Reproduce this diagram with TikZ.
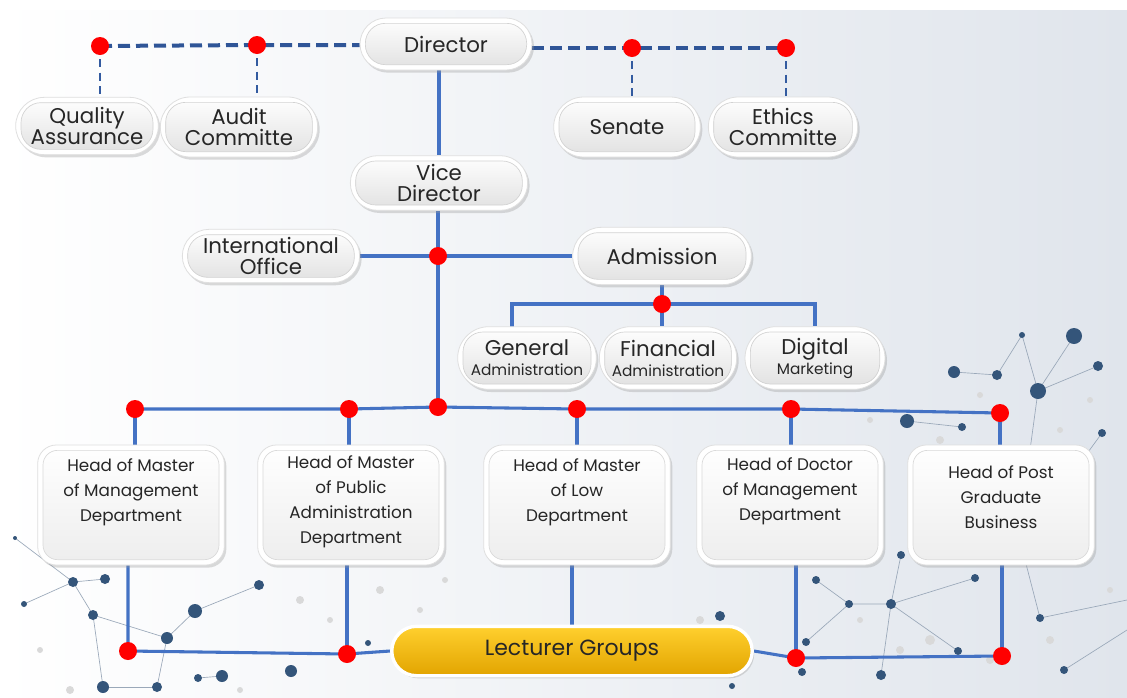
\documentclass[tikz,border=0pt]{standalone}
\usepackage{fontspec}
\setmainfont{Poppins}
\usetikzlibrary{shadows,calc,shapes.misc}
\pgfdeclarelayer{bg}
\pgfdeclarelayer{lines}
\pgfsetlayers{bg,lines,main}
\definecolor{lineblue}{HTML}{4472C4}
\definecolor{dashblue}{HTML}{2F5597}
\definecolor{dotred}{HTML}{FF0000}
\definecolor{netdot}{HTML}{34557A}
\definecolor{netline}{HTML}{9AA8B9}
\definecolor{bgright}{HTML}{E0E5EC}
\definecolor{goldtop}{HTML}{FFD02E}
\definecolor{goldbot}{HTML}{E2A400}
\tikzset{
  pill/.style={rounded rectangle, fill=white, draw=gray!25, line width=0.6pt, inner sep=0pt, align=center,
    drop shadow={shadow xshift=1.5pt, shadow yshift=-2pt, opacity=0.35, fill=gray!80},
    path picture={\draw[gray!35, line width=0.5pt, top color=white, bottom color=gray!24, rounded corners=15pt]
      ([shift={(4pt,4pt)}]path picture bounding box.south west) rectangle
      ([shift={(-4pt,-4pt)}]path picture bounding box.north east);},
    font=\fontsize{16}{16}\selectfont, text=black!85},
  headbox/.style={rounded corners=14pt, fill=white, draw=gray!25, line width=0.6pt, inner sep=0pt,
    minimum width=140pt, minimum height=90pt,
    drop shadow={shadow xshift=1.5pt, shadow yshift=-2pt, opacity=0.35, fill=gray!80},
    path picture={\draw[gray!30, line width=0.5pt, top color=white, bottom color=gray!14, rounded corners=11pt]
      ([shift={(4pt,4pt)}]path picture bounding box.south west) rectangle
      ([shift={(-4pt,-4pt)}]path picture bounding box.north east);}},
  headtext/.style={align=center, font=\fontsize{12.6}{18.7}\selectfont, text=black!85, inner sep=0pt},
  lecturer/.style={rounded rectangle, draw=white, line width=2.5pt,
    top color=goldtop, bottom color=goldbot, minimum width=277pt, minimum height=37pt,
    drop shadow={shadow xshift=1.5pt, shadow yshift=-2pt, opacity=0.35, fill=gray!80},
    font=\fontsize{16.5}{16.5}\selectfont, text=black!85},
  rdot/.style={circle, fill=dotred, minimum size=13.5pt, inner sep=0pt},
  solidline/.style={draw=lineblue, line width=2.3pt},
  dashline/.style={draw=dashblue, line width=3pt, dash pattern=on 9pt off 4.5pt},
  vdash/.style={draw=dashblue!80!lineblue, line width=2.2pt, dash pattern=on 6pt off 4pt},
  ndot/.style={fill=netdot},
  ldot/.style={fill=gray!30},
  nline/.style={draw=netline, line width=0.5pt}
}
\newcommand{\smalltxt}[1]{{\fontsize{11.5}{12}\selectfont #1}}
\begin{document}
\begin{tikzpicture}[x=0.75pt, y=-0.75pt]
\useasboundingbox (0,0) rectangle (1127,697);
\begin{pgfonlayer}{bg}
  \shade[left color=white, right color=bgright] (0,10) rectangle (1127,697);
  \fill[white] (0,0) rectangle (1127,10);
  % network decoration lines
  \path[nline] (954,372) -- (997,375) -- (1022,335) -- (1038,391) -- (1074,336);
  \path[nline] (1038,391) -- (1098,366);
  \path[nline] (907,421) -- (962,427);
  \path[nline] (1038,391) -- (1030,450) -- (1015,520);
  \path[nline] (1102,433) -- (1075,470);
  \path[nline] (15,538) -- (73,582) -- (105,579);
  \path[nline] (24,604) -- (73,582) -- (93,615) -- (167,638) -- (195,611) -- (259,585);
  \path[nline] (93,615) -- (103,687);
  \path[nline] (167,638) -- (157,687);
  \path[nline] (198,678) -- (222,676);
  \path[nline] (103,687) -- (157,687);
  \path[nline] (816,580) -- (849,604) -- (891,604) -- (975,578);
  \path[nline] (891,604) -- (958,651);
  \path[nline] (901,555) -- (891,604) -- (881,675);
  \path[nline] (806,642) -- (849,604);
  \path[nline] (1040,618) -- (1127,600);
  \path[nline] (1064,670) -- (1127,630);
  \path[nline] (1040,618) -- (1025,560);
  % light dots
  \foreach \p/\r in {(1000,420)/4,(980,395)/3,(1060,430)/3,(1090,400)/3,(940,440)/4,(870,420)/3,
    (900,650)/4,(930,640)/5,(990,660)/4,(1080,560)/4,(1110,590)/3,(1050,640)/4,(860,620)/3,
    (300,600)/4,(330,620)/3,(70,690)/4,(240,690)/3,(40,650)/3,(380,590)/4,(420,610)/3,(700,620)/4,(680,660)/3,(445,580)/3}
    \fill[ldot] \p circle (\r);
  % dark dots
  \foreach \p/\r in {(1074,336)/8,(1022,335)/3,(1098,366)/5,(1038,391)/8,(954,372)/6,(997,375)/5,
    (907,421)/7,(962,427)/4,(1102,433)/4,
    (15,538)/2,(73,582)/5,(105,579)/5,(24,604)/3,(93,615)/5,(195,611)/7,(259,585)/5,(167,638)/6,
    (103,687)/6,(157,687)/5,(198,678)/4,(222,676)/6,(291,671)/6,(368,643)/3,
    (901,555)/4,(816,580)/4,(849,604)/4,(891,604)/5,(975,578)/4,(720,616)/5,(806,642)/4,
    (802,672)/4,(881,675)/5,(958,651)/4,(1040,618)/4,(1064,670)/4,(732,686)/3}
    \fill[ndot] \p circle (\r);
\end{pgfonlayer}

% top level
\node[pill, minimum width=129pt, minimum height=39pt] (dir) at (446,44) {Director};
\node[pill, minimum width=107pt, minimum height=43pt] (qa) at (87,126) {Quality\\Assurance};
\node[pill, minimum width=118pt, minimum height=45pt] (ac) at (239,127) {Audit\\Committe};
\node[pill, minimum width=110pt, minimum height=45pt] (sen) at (627,127) {Senate};
\node[pill, minimum width=112pt, minimum height=45pt] (eth) at (783,127) {Ethics\\Committe};
\node[pill, minimum width=133pt, minimum height=41pt] (vd) at (439,183) {Vice\\Director};
\node[pill, minimum width=133pt, minimum height=40pt] (io) at (271,256) {International\\Office};
\node[pill, minimum width=134pt, minimum height=43pt] (adm) at (662,256) {Admission};
\node[pill, minimum width=104pt, minimum height=47pt] (ga) at (527,358) {General\\[-1pt]\smalltxt{Administration}};
\node[pill, minimum width=103pt, minimum height=47pt] (fa) at (668,358) {Financial\\[-1pt]\smalltxt{Administration}};
\node[pill, minimum width=105pt, minimum height=47pt] (dm) at (815,358) {Digital\\[-1pt]\smalltxt{Marketing}};

% heads
\node[headbox] (h1) at (131,505) {};
\node[headbox] (h2) at (351,505) {};
\node[headbox] (h3) at (577,505) {};
\node[headbox] (h4) at (790,505) {};
\node[headbox] (h5) at (1001,505) {};
\node[headtext] (h1t) at (131,492) {Head of Master\\of Management\\Department};
\node[headtext] (h2t) at (351,502) {Head of Master\\of Public\\Administration\\Department};
\node[headtext] (h3t) at (577,492) {Head of Master\\of Low\\Department};
\node[headtext] (h4t) at (790,491) {Head of Doctor\\of Management\\Department};
\node[headtext] (h5t) at (1001,497) {Head of Post\\Graduate\\Business};

\node[lecturer] (lg) at (572,651) {Lecturer Groups};

% red dots
\node[rdot] (dq) at (100,46) {};
\node[rdot] (da) at (257,45) {};
\node[rdot] (ds) at (632,48) {};
\node[rdot] (de) at (786,48) {};
\node[rdot] (dv) at (438,256) {};
\node[rdot] (dA) at (662,304) {};
\node[rdot] (b1) at (135,409) {};
\node[rdot] (b2) at (349,409) {};
\node[rdot] (b3) at (438,407) {};
\node[rdot] (b4) at (577,409) {};
\node[rdot] (b5) at (791,409) {};
\node[rdot] (b6) at (1000,413) {};
\node[rdot] (l1) at (128,651) {};
\node[rdot] (l2) at (347,654) {};
\node[rdot] (l3) at (796,658) {};
\node[rdot] (l4) at (1002,656) {};
\coordinate (gaTop) at (512,327);

\begin{pgfonlayer}{lines}
  % dashed advisory lines
  \path[dashline] (dq.center) -- (da.center) -- (dir.west |- da.center);
  \path[dashline] (dir.east |- ds.center) -- (ds.center) -- (de.center);
  \path[vdash] (dq.center) -- (dq.center |- qa.north);
  \path[vdash] (da.center) -- (da.center |- ac.north);
  \path[vdash] (ds.center) -- (ds.center |- sen.north);
  \path[vdash] (de.center) -- (de.center |- eth.north);
  % main spine
  \path[solidline] (vd.north |- dir.south) -- (vd.north);
  \path[solidline] (dv.center |- vd.south) -- (dv.center) -- (b3.center);
  \path[solidline] (io.east) -- (dv.center) -- (adm.west);
  % admission
  \path[solidline] (dA.center |- adm.south) -- (dA.center);
  \path[solidline] (gaTop) |- (dA.center) -| (dm.north);
  \path[solidline] (dA.center) -- (dA.center |- fa.north);
  % heads bar
  \path[solidline] (b1.center) -- (b2.center) -- (b3.center) -- (b4.center) -- (b5.center) -- (b6.center);
  \path[solidline] (b1.center) -- (b1.center |- h1.north);
  \path[solidline] (b2.center) -- (b2.center |- h2.north);
  \path[solidline] (b4.center) -- (b4.center |- h3.north);
  \path[solidline] (b5.center) -- (b5.center |- h4.north);
  \path[solidline] (b6.center) -- (b6.center |- h5.north);
  % lower
  \path[solidline] (l1.center |- h1.south) -- (l1.center) -- (l2.center) -- (lg.west);
  \path[solidline] (l2.center |- h2.south) -- (l2.center);
  \path[solidline] (lg.north |- h3.south) -- (lg.north);
  \path[solidline] (lg.east) -- (l3.center) -- (l4.center);
  \path[solidline] (l3.center |- h4.south) -- (l3.center);
  \path[solidline] (l4.center |- h5.south) -- (l4.center);
\end{pgfonlayer}
\end{tikzpicture}
\end{document}
